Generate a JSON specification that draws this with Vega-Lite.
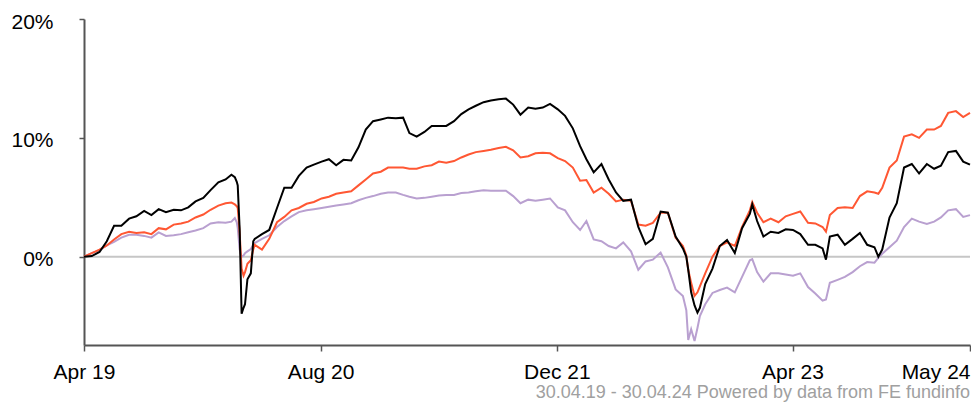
{
  "$schema": "https://vega.github.io/schema/vega-lite/v6.json",
  "width": 886,
  "height": 326,
  "autosize": {"type": "none"},
  "padding": {"left": 84, "top": 19, "right": 1, "bottom": 64},
  "background": "white",
  "title": {
    "text": "30.04.19 - 30.04.24 Powered by data from FE fundinfo",
    "orient": "bottom",
    "anchor": "end",
    "font": "Liberation Sans",
    "fontSize": 18,
    "fontWeight": "normal",
    "color": "#a0a0a0",
    "offset": 2,
    "dx": -4
  },
  "config": {
    "view": {"stroke": null},
    "font": "Liberation Sans",
    "axis": {
      "grid": false,
      "domainColor": "#555555",
      "domainWidth": 2,
      "tickColor": "#555555",
      "tickWidth": 1.5,
      "labelColor": "#000000",
      "labelFont": "Liberation Sans",
      "labelFontSize": 21
    }
  },
  "data": {
    "values": [
      {"d": "2019-04-30", "b": 0, "o": 0, "p": 0},
      {"d": "2019-05-16", "b": 0.05, "o": 0.3, "p": 0.3},
      {"d": "2019-06-01", "b": 0.4, "o": 0.6, "p": 0.55},
      {"d": "2019-06-16", "b": 1.3, "o": 0.95, "p": 0.95},
      {"d": "2019-07-01", "b": 2.6, "o": 1.45, "p": 1.25},
      {"d": "2019-07-16", "b": 2.6, "o": 1.9, "p": 1.6},
      {"d": "2019-08-01", "b": 3.2, "o": 2.1, "p": 1.85},
      {"d": "2019-08-16", "b": 3.4, "o": 2.0, "p": 1.85},
      {"d": "2019-09-01", "b": 3.85, "o": 2.05, "p": 1.75},
      {"d": "2019-09-16", "b": 3.5, "o": 1.9, "p": 1.6},
      {"d": "2019-10-01", "b": 4.0, "o": 2.4, "p": 2.05},
      {"d": "2019-10-16", "b": 3.75, "o": 2.3, "p": 1.75},
      {"d": "2019-11-01", "b": 3.95, "o": 2.7, "p": 1.8},
      {"d": "2019-11-16", "b": 3.9, "o": 2.8, "p": 1.9},
      {"d": "2019-12-01", "b": 4.15, "o": 2.95, "p": 2.05},
      {"d": "2019-12-16", "b": 4.65, "o": 3.3, "p": 2.2},
      {"d": "2020-01-01", "b": 4.95, "o": 3.55, "p": 2.4},
      {"d": "2020-01-16", "b": 5.6, "o": 3.95, "p": 2.8},
      {"d": "2020-02-01", "b": 6.25, "o": 4.3, "p": 2.9},
      {"d": "2020-02-16", "b": 6.5, "o": 4.5, "p": 2.85},
      {"d": "2020-02-28", "b": 6.9, "o": 4.55, "p": 2.95},
      {"d": "2020-03-06", "b": 6.7, "o": 4.4, "p": 3.25},
      {"d": "2020-03-10", "b": 6.3, "o": 4.25, "p": 2.9},
      {"d": "2020-03-12", "b": 6.0, "o": 4.1, "p": 2.4},
      {"d": "2020-03-16", "b": 2.3, "o": 2.0, "p": 0.6},
      {"d": "2020-03-20", "b": -4.8, "o": -1.0, "p": 0.0},
      {"d": "2020-03-24", "b": -4.3, "o": -1.6, "p": 0.1},
      {"d": "2020-03-27", "b": -4.0, "o": -1.3, "p": 0.3},
      {"d": "2020-04-01", "b": -1.9, "o": -0.6, "p": 0.45},
      {"d": "2020-04-08", "b": -1.4, "o": -0.3, "p": 0.65},
      {"d": "2020-04-13", "b": 1.3, "o": 0.6, "p": 1.0},
      {"d": "2020-04-16", "b": 1.5, "o": 1.0, "p": 1.15},
      {"d": "2020-05-01", "b": 1.9, "o": 0.6, "p": 1.5},
      {"d": "2020-05-16", "b": 2.25, "o": 1.5, "p": 1.8},
      {"d": "2020-06-01", "b": 4.1, "o": 2.9, "p": 2.5},
      {"d": "2020-06-16", "b": 5.8, "o": 3.35, "p": 3.0},
      {"d": "2020-07-01", "b": 5.8, "o": 3.9, "p": 3.4},
      {"d": "2020-07-16", "b": 6.8, "o": 4.1, "p": 3.75},
      {"d": "2020-08-01", "b": 7.5, "o": 4.45, "p": 3.9},
      {"d": "2020-08-16", "b": 7.75, "o": 4.6, "p": 4.0},
      {"d": "2020-09-01", "b": 8.0, "o": 4.9, "p": 4.1},
      {"d": "2020-09-16", "b": 8.2, "o": 5.05, "p": 4.2},
      {"d": "2020-10-01", "b": 7.7, "o": 5.3, "p": 4.3},
      {"d": "2020-10-16", "b": 8.15, "o": 5.4, "p": 4.4},
      {"d": "2020-11-01", "b": 8.1, "o": 5.5, "p": 4.5},
      {"d": "2020-11-16", "b": 9.2, "o": 6.0, "p": 4.75},
      {"d": "2020-12-01", "b": 10.7, "o": 6.5, "p": 4.95},
      {"d": "2020-12-16", "b": 11.4, "o": 7.0, "p": 5.1},
      {"d": "2021-01-01", "b": 11.55, "o": 7.15, "p": 5.3},
      {"d": "2021-01-16", "b": 11.7, "o": 7.5, "p": 5.4},
      {"d": "2021-02-01", "b": 11.65, "o": 7.5, "p": 5.4},
      {"d": "2021-02-16", "b": 11.7, "o": 7.5, "p": 5.2},
      {"d": "2021-03-01", "b": 10.4, "o": 7.4, "p": 5.05},
      {"d": "2021-03-16", "b": 10.1, "o": 7.4, "p": 4.9},
      {"d": "2021-04-01", "b": 10.5, "o": 7.6, "p": 4.95},
      {"d": "2021-04-16", "b": 11.0, "o": 7.7, "p": 5.05},
      {"d": "2021-05-01", "b": 11.0, "o": 8.0, "p": 5.15},
      {"d": "2021-05-16", "b": 11.0, "o": 7.9, "p": 5.2},
      {"d": "2021-06-01", "b": 11.4, "o": 8.05, "p": 5.2},
      {"d": "2021-06-16", "b": 12.0, "o": 8.35, "p": 5.35},
      {"d": "2021-07-01", "b": 12.4, "o": 8.6, "p": 5.4},
      {"d": "2021-07-16", "b": 12.7, "o": 8.8, "p": 5.5},
      {"d": "2021-08-01", "b": 13.0, "o": 8.9, "p": 5.6},
      {"d": "2021-08-16", "b": 13.15, "o": 9.0, "p": 5.55},
      {"d": "2021-09-01", "b": 13.25, "o": 9.15, "p": 5.55},
      {"d": "2021-09-16", "b": 13.3, "o": 9.25, "p": 5.55},
      {"d": "2021-10-01", "b": 12.8, "o": 8.95, "p": 5.1},
      {"d": "2021-10-16", "b": 11.95, "o": 8.35, "p": 4.5},
      {"d": "2021-11-01", "b": 12.55, "o": 8.45, "p": 4.8},
      {"d": "2021-11-16", "b": 12.45, "o": 8.7, "p": 4.7},
      {"d": "2021-12-01", "b": 12.55, "o": 8.75, "p": 4.8},
      {"d": "2021-12-16", "b": 12.85, "o": 8.7, "p": 4.9},
      {"d": "2022-01-01", "b": 12.4, "o": 8.3, "p": 4.15},
      {"d": "2022-01-16", "b": 11.85, "o": 8.05, "p": 3.9},
      {"d": "2022-02-01", "b": 10.8, "o": 7.5, "p": 2.9},
      {"d": "2022-02-16", "b": 9.3, "o": 6.4, "p": 2.25},
      {"d": "2022-03-01", "b": 8.2, "o": 6.45, "p": 3.0},
      {"d": "2022-03-16", "b": 7.1, "o": 5.4, "p": 1.45},
      {"d": "2022-04-01", "b": 7.8, "o": 5.8, "p": 1.3},
      {"d": "2022-04-16", "b": 6.5, "o": 5.3, "p": 0.9},
      {"d": "2022-05-01", "b": 5.4, "o": 4.65, "p": 0.7},
      {"d": "2022-05-16", "b": 4.7, "o": 4.8, "p": 1.2},
      {"d": "2022-06-01", "b": 4.8, "o": 4.7, "p": 0.45},
      {"d": "2022-06-16", "b": 2.5, "o": 2.7, "p": -1.1},
      {"d": "2022-07-01", "b": 1.05, "o": 2.6, "p": -0.4},
      {"d": "2022-07-16", "b": 1.5, "o": 2.85, "p": -0.25},
      {"d": "2022-08-01", "b": 3.8, "o": 3.7, "p": 0.35},
      {"d": "2022-08-16", "b": 3.7, "o": 3.7, "p": -0.9},
      {"d": "2022-09-01", "b": 1.7, "o": 1.6, "p": -2.75},
      {"d": "2022-09-16", "b": 0.7, "o": 0.9, "p": -3.3},
      {"d": "2022-09-23", "b": 0.0, "o": 0.1, "p": -4.5},
      {"d": "2022-09-27", "b": -1.1, "o": -1.1, "p": -7.0},
      {"d": "2022-10-03", "b": -3.0, "o": -2.2, "p": -6.1},
      {"d": "2022-10-10", "b": -4.1, "o": -3.3, "p": -7.1},
      {"d": "2022-10-16", "b": -4.7, "o": -3.0, "p": -6.0},
      {"d": "2022-10-21", "b": -4.3, "o": -2.5, "p": -5.0},
      {"d": "2022-11-01", "b": -2.3, "o": -1.4, "p": -4.0},
      {"d": "2022-11-16", "b": -1.0, "o": 0.0, "p": -3.05},
      {"d": "2022-12-01", "b": 0.9, "o": 0.9, "p": -2.8},
      {"d": "2022-12-16", "b": 1.4, "o": 1.2, "p": -2.6},
      {"d": "2023-01-01", "b": 0.3, "o": 0.9, "p": -3.0},
      {"d": "2023-01-16", "b": 2.4, "o": 2.5, "p": -1.7},
      {"d": "2023-02-01", "b": 3.6, "o": 3.9, "p": -0.3},
      {"d": "2023-02-06", "b": 4.4, "o": 4.6, "p": -0.2},
      {"d": "2023-02-16", "b": 3.0, "o": 3.7, "p": -1.3},
      {"d": "2023-03-01", "b": 1.7, "o": 2.9, "p": -2.1},
      {"d": "2023-03-16", "b": 2.1, "o": 3.2, "p": -1.4},
      {"d": "2023-04-01", "b": 2.0, "o": 2.9, "p": -1.4},
      {"d": "2023-04-16", "b": 2.3, "o": 3.4, "p": -1.5},
      {"d": "2023-05-01", "b": 2.25, "o": 3.6, "p": -1.6},
      {"d": "2023-05-16", "b": 1.9, "o": 3.8, "p": -1.4},
      {"d": "2023-06-01", "b": 1.0, "o": 2.85, "p": -2.55},
      {"d": "2023-06-16", "b": 1.0, "o": 2.8, "p": -3.1},
      {"d": "2023-07-01", "b": 0.7, "o": 2.5, "p": -3.7},
      {"d": "2023-07-08", "b": -0.25, "o": 2.1, "p": -3.6},
      {"d": "2023-07-16", "b": 1.7, "o": 3.5, "p": -2.2},
      {"d": "2023-08-01", "b": 1.85, "o": 4.1, "p": -1.95},
      {"d": "2023-08-16", "b": 1.0, "o": 4.15, "p": -1.7},
      {"d": "2023-09-01", "b": 1.5, "o": 4.1, "p": -1.3},
      {"d": "2023-09-16", "b": 2.0, "o": 5.1, "p": -0.8},
      {"d": "2023-10-01", "b": 1.0, "o": 5.5, "p": -0.45},
      {"d": "2023-10-16", "b": 0.8, "o": 5.4, "p": -0.5},
      {"d": "2023-10-24", "b": 0.0, "o": 5.3, "p": -0.1},
      {"d": "2023-11-01", "b": 0.6, "o": 5.8, "p": 0.25},
      {"d": "2023-11-16", "b": 3.3, "o": 7.5, "p": 0.8},
      {"d": "2023-12-01", "b": 4.5, "o": 8.1, "p": 1.35},
      {"d": "2023-12-16", "b": 7.5, "o": 10.1, "p": 2.5},
      {"d": "2024-01-01", "b": 7.8, "o": 10.3, "p": 3.2},
      {"d": "2024-01-16", "b": 7.0, "o": 10.0, "p": 2.95},
      {"d": "2024-02-01", "b": 7.8, "o": 10.7, "p": 2.75},
      {"d": "2024-02-16", "b": 7.4, "o": 10.7, "p": 2.95},
      {"d": "2024-03-01", "b": 7.65, "o": 11.0, "p": 3.3},
      {"d": "2024-03-16", "b": 8.8, "o": 12.1, "p": 3.9},
      {"d": "2024-04-01", "b": 8.9, "o": 12.25, "p": 4.0},
      {"d": "2024-04-16", "b": 8.0, "o": 11.75, "p": 3.35},
      {"d": "2024-04-30", "b": 7.75, "o": 12.1, "p": 3.5}
    ]
  },
  "layer": [
    {
      "data": {"values": [{"z": 0}]},
      "mark": {"type": "rule", "color": "#c6c6c6", "strokeWidth": 2},
      "encoding": {
        "y": {
          "field": "z",
          "type": "quantitative",
          "title": null,
          "scale": {"domain": [-7.43, 20], "nice": false, "zero": false},
          "axis": {
            "values": [0, 10, 20],
            "labelExpr": "datum.value + '%'",
            "tickSize": 5,
            "labelPadding": 26,
            "labelOffset": 3
          }
        }
      }
    },
    {
      "mark": {"type": "line", "color": "#b9a0d0", "strokeWidth": 2},
      "encoding": {
        "x": {
          "field": "d",
          "type": "temporal",
          "title": null,
          "scale": {
            "type": "utc",
            "domain": [
              {"year": 2019, "month": 4, "date": 30, "utc": true},
              {"year": 2024, "month": 4, "date": 30, "utc": true}
            ]
          },
          "axis": {
            "values": [
              {"year": 2019, "month": 4, "date": 30, "utc": true},
              {"year": 2020, "month": 8, "date": 30, "utc": true},
              {"year": 2021, "month": 12, "date": 30, "utc": true},
              {"year": 2023, "month": 4, "date": 30, "utc": true},
              {"year": 2024, "month": 4, "date": 30, "utc": true}
            ],
            "labelExpr": "datum.value >= 1704067200000 ? 'May 24' : utcFormat(datum.value, '%b %y')",
            "labelAlign": {"condition": {"test": "datum.value >= 1704067200000", "value": "right"}, "value": "center"},
            "tickSize": 6,
            "labelPadding": 10
          }
        },
        "y": {"field": "p", "type": "quantitative", "title": null, "scale": {"domain": [-7.43, 20], "nice": false, "zero": false}}
      }
    },
    {
      "mark": {"type": "line", "color": "#ff5733", "strokeWidth": 2},
      "encoding": {
        "x": {"field": "d", "type": "temporal", "title": null},
        "y": {"field": "o", "type": "quantitative", "title": null, "scale": {"domain": [-7.43, 20], "nice": false, "zero": false}}
      }
    },
    {
      "mark": {"type": "line", "color": "#000000", "strokeWidth": 2},
      "encoding": {
        "x": {"field": "d", "type": "temporal", "title": null},
        "y": {"field": "b", "type": "quantitative", "title": null, "scale": {"domain": [-7.43, 20], "nice": false, "zero": false}}
      }
    }
  ]
}
